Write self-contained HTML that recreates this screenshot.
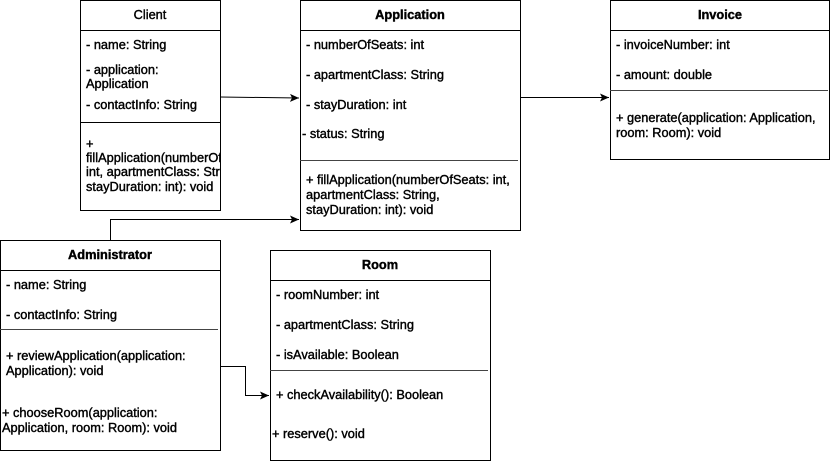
<!DOCTYPE html>
<html><head><style>html,body{margin:0;padding:0;background:#fff}svg{display:block}text{font-family:"Liberation Sans",Arial,sans-serif;font-size:12.8px;fill:#000;stroke:#000;stroke-width:0.4}</style></head>
<body>
<svg width="831" height="461" viewBox="0 0 831 461" xmlns="http://www.w3.org/2000/svg">
<defs>
<clipPath id="cc"><rect x="80" y="0" width="140" height="210"/></clipPath>
<marker id="ar" markerWidth="10" markerHeight="8" refX="9" refY="4" orient="auto" markerUnits="userSpaceOnUse"><path d="M0,0 L9,4 L0,8 L2,4 z" fill="#000"/></marker>
</defs>
<g fill="#fff" stroke="#000" stroke-width="1">
<rect x="80.5" y="0.5" width="140" height="210"/>
<line x1="80" y1="30.5" x2="220" y2="30.5"/>
<line x1="80" y1="122.5" x2="220" y2="122.5"/>
<rect x="300.5" y="0.5" width="220" height="230"/>
<line x1="300" y1="30.5" x2="520" y2="30.5"/>
<line x1="300" y1="160.5" x2="518" y2="160.5" stroke="#444"/>
<rect x="610.5" y="0.5" width="219" height="159"/>
<line x1="610" y1="30.5" x2="830" y2="30.5"/>
<line x1="610" y1="90.5" x2="828" y2="90.5" stroke="#444"/>
<rect x="0.5" y="240.5" width="220" height="210"/>
<line x1="0" y1="270.5" x2="220" y2="270.5"/>
<line x1="0" y1="329.5" x2="218" y2="329.5" stroke="#444"/>
<rect x="270.5" y="250.5" width="220" height="210"/>
<line x1="270" y1="280.5" x2="490" y2="280.5"/>
<line x1="270" y1="370.5" x2="488" y2="370.5" stroke="#444"/>
</g>
<g fill="none" stroke="#000" stroke-width="1">
<line x1="220" y1="97" x2="299" y2="98" marker-end="url(#ar)"/>
<line x1="520" y1="97.5" x2="609" y2="97.5" marker-end="url(#ar)"/>
<polyline points="110.5,240 110.5,219.5 299,219.5" marker-end="url(#ar)"/>
<polyline points="220,366.5 245.5,366.5 245.5,395.5 269,395.5" marker-end="url(#ar)"/>
</g>
<text x="150" y="19" text-anchor="middle" stroke-width="0">Client</text>
<g clip-path="url(#cc)">
<text x="86" y="49">- name: String</text>
<text x="86" y="74">- application:</text>
<text x="86" y="88">Application</text>
<text x="86" y="109">- contactInfo: String</text>
<text x="86" y="148">+</text>
<text x="86" y="162">fillApplication(numberOfSeats:</text>
<text x="86" y="176">int, apartmentClass: String,</text>
<text x="86" y="191">stayDuration: int): void</text>
</g>
<text x="410" y="19" text-anchor="middle" font-weight="bold">Application</text>
<text x="306" y="49">- numberOfSeats: int</text>
<text x="306" y="79">- apartmentClass: String</text>
<text x="306" y="109">- stayDuration: int</text>
<text x="302" y="138">- status: String</text>
<text x="306" y="184">+ fillApplication(numberOfSeats: int,</text>
<text x="306" y="199">apartmentClass: String,</text>
<text x="306" y="214">stayDuration: int): void</text>
<text x="720" y="19" text-anchor="middle" font-weight="bold">Invoice</text>
<text x="616" y="49">- invoiceNumber: int</text>
<text x="616" y="79">- amount: double</text>
<text x="616" y="122">+ generate(application: Application,</text>
<text x="616" y="137">room: Room): void</text>
<text x="110" y="259" text-anchor="middle" font-weight="bold">Administrator</text>
<text x="6" y="289">- name: String</text>
<text x="6" y="319">- contactInfo: String</text>
<text x="6" y="360">+ reviewApplication(application:</text>
<text x="6" y="375">Application): void</text>
<text x="2" y="417">+ chooseRoom(application:</text>
<text x="2" y="432">Application, room: Room): void</text>
<text x="380" y="269" text-anchor="middle" font-weight="bold">Room</text>
<text x="276" y="299">- roomNumber: int</text>
<text x="276" y="329">- apartmentClass: String</text>
<text x="276" y="359">- isAvailable: Boolean</text>
<text x="276" y="399">+ checkAvailability(): Boolean</text>
<text x="272" y="438">+ reserve(): void</text>
</svg>
</body></html>
